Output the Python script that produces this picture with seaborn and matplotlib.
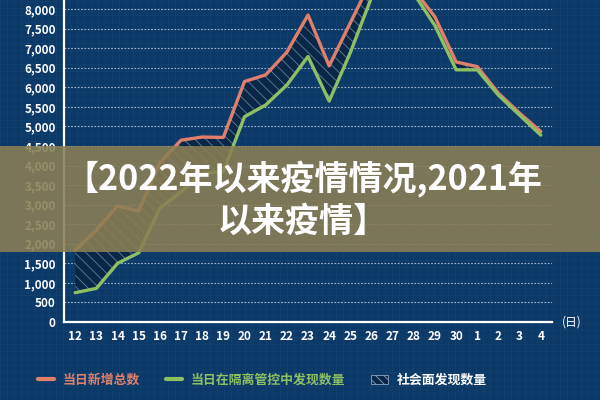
import numpy as np
import pandas as pd
import matplotlib.pyplot as plt
import seaborn as sns
from matplotlib.lines import Line2D
from matplotlib.patches import Patch, Rectangle

days = ["12", "13", "14", "15", "16", "17", "18", "19", "20", "21", "22", "23",
        "24", "25", "26", "27", "28", "29", "30", "1", "2", "3", "4"]
total = [1840, 2350, 2970, 2840, 4070, 4650, 4730, 4720, 6150, 6320, 6900, 7850,
         6550, 7650, 8750, 9000, 8500, 7800, 6650, 6530, 5850, 5340, 4870]
isolated = [750, 860, 1500, 1770, 2910, 3330, 3800, 3850, 5250, 5550, 6060, 6790,
            5650, 6890, 8300, 8800, 8400, 7580, 6450, 6450, 5800, 5290, 4780]

title = "【2022年以来疫情情况,2021年\n以来疫情】"
legend_labels = ["当日新增总数", "当日在隔离管控中发现数量", "社会面发现数量"]

BG = "#0c3a68"
RED = "#e0806c"
GREEN = "#8cc063"

sns.set_theme(style="white")
plt.rcParams['font.family'] = ['Noto Sans CJK SC', 'DejaVu Sans']
plt.rcParams['hatch.color'] = "#5f7fa0"
plt.rcParams['hatch.linewidth'] = 0.6

df = pd.DataFrame({"idx": np.arange(len(days)), "total": total, "isolated": isolated})

fig = plt.figure(figsize=(6, 4), dpi=100, facecolor=BG)

# blueprint-like faint background grid
bg = fig.add_axes([0, 0, 1, 1], zorder=-5)
bg.set_facecolor(BG)
bg.set_xlim(0, 600)
bg.set_ylim(0, 400)
for v in np.arange(0, 600, 7):
    bg.axvline(v, color="#2a5886", lw=0.4, alpha=0.35)
for v in np.arange(0, 400, 7):
    bg.axhline(v, color="#2a5886", lw=0.4, alpha=0.35)
bg.axis("off")

ax = fig.add_axes([0.107, 0.195, 0.813, 0.805])
ax.set_facecolor("none")

ax.fill_between(df["idx"], df["isolated"], df["total"], facecolor="#0a2747",
                edgecolor="#5f7fa0", hatch="\\\\\\", linewidth=0, zorder=1)
sns.lineplot(data=df, x="idx", y="total", color=RED, lw=2.4, ax=ax, zorder=3)
sns.lineplot(data=df, x="idx", y="isolated", color=GREEN, lw=2.4, ax=ax, zorder=3)

ax.set_xlim(-0.52, 22.53)
ax.set_ylim(0, 8235)
ax.set_yticks(np.arange(0, 8001, 500))
ax.set_yticklabels([f"{v:,}" for v in range(0, 8001, 500)])
ax.set_xticks(df["idx"])
ax.set_xticklabels(days)
ax.set_xticks(np.arange(0.5, 22, 1), minor=True)
ax.set_xlabel("")
ax.set_ylabel("")

ax.grid(axis="y", color="#c8d6e6", linestyle=(0, (1.5, 1.5)), lw=0.8, alpha=0.8)
ax.grid(axis="x", visible=False)
for s in ["top", "right"]:
    ax.spines[s].set_visible(False)
for s in ["left", "bottom"]:
    ax.spines[s].set_color("white")
    ax.spines[s].set_linewidth(1.6)
ax.tick_params(axis="y", colors="white", labelsize=8.5, length=3, width=1, pad=3)
ax.tick_params(axis="x", colors="white", labelsize=8.5, length=0, pad=6)
ax.tick_params(axis="x", which="minor", direction="in", length=3, width=1, colors="white")
for lab in ax.get_yticklabels() + ax.get_xticklabels():
    lab.set_fontweight("bold")
ax.text(1.02, 0, "(日)", transform=ax.transAxes, color="white", fontsize=8.5,
        va="center", ha="left")

handles = [Line2D([0], [0], color=RED, lw=3),
           Line2D([0], [0], color=GREEN, lw=3),
           Patch(facecolor="#0a2747", edgecolor="#8aa4c0", hatch="\\\\\\\\", lw=0.6)]
leg = fig.legend(handles, legend_labels, loc="center", bbox_to_anchor=(0.437, 0.05),
                 ncol=3, frameon=False, handlelength=1.25, columnspacing=2.0,
                 handletextpad=0.7, prop={"weight": "bold", "size": 9.3})
for txt, c in zip(leg.get_texts(), [RED, GREEN, "white"]):
    txt.set_color(c)

# translucent title band
fig.patches.append(Rectangle((0, 148 / 400), 1, 106 / 400, transform=fig.transFigure,
                             facecolor="#8a7f55", edgecolor="none", lw=0,
                             alpha=0.88, zorder=10))
fig.text(0.505, 0.5, title, ha="center", va="center", color="white", fontsize=24.5,
         fontweight="heavy", linespacing=1.2, zorder=11)

fig.savefig("out.png", dpi=100, facecolor=BG)
